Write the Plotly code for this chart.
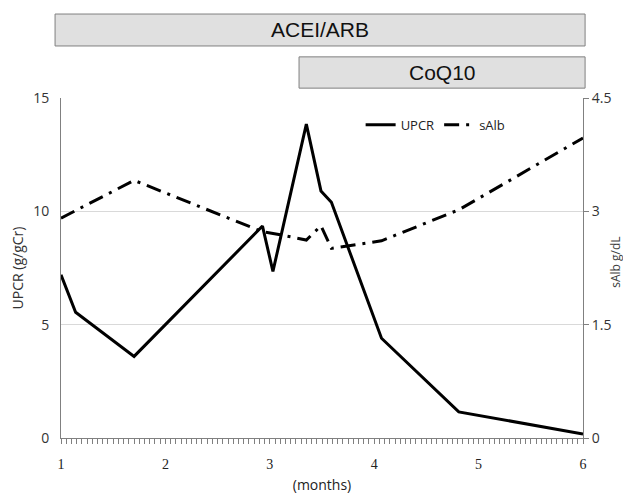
import plotly.graph_objects as go

# Data (months)
upcr_x = [1.0, 1.14, 1.70, 2.93, 3.03, 3.35, 3.49, 3.59, 4.07, 4.81, 6.0]
upcr_y = [7.2, 5.55, 3.6, 9.35, 7.35, 13.85, 10.9, 10.4, 4.4, 1.15, 0.18]

salb_x = [1.0, 1.70, 2.93, 3.03, 3.10, 3.35, 3.49, 3.59, 4.07, 4.81, 6.0]
salb_y = [2.91, 3.41, 2.73, 2.71, 2.69, 2.62, 2.81, 2.51, 2.61, 3.02, 3.97]

x_ticks = [1, 2, 3, 4, 5, 6]
y1_ticks = [0, 5, 10, 15]
y2_ticks = [0, 1.5, 3, 4.5]

treatments = ["ACEI/ARB", "CoQ10"]
treat_start = [0.943, 3.28]
treat_end = [6.02, 6.02]

X_RANGE = [1, 6]

fig = go.Figure()
fig.add_trace(go.Scatter(x=upcr_x, y=upcr_y, mode="lines", name="UPCR",
                         line=dict(color="black", width=3)))
fig.add_trace(go.Scatter(x=salb_x, y=salb_y, mode="lines", name="sAlb", yaxis="y2",
                         line=dict(color="black", width=3, dash="15px,7px,3px,7px")))

# treatment boxes (paper coords derived from x axis range)
box_rows = [(1.153, 1.247), (1.029, 1.121)]
for name, s, e, (y0, y1) in zip(treatments, treat_start, treat_end, box_rows):
    px0 = (s - X_RANGE[0]) / (X_RANGE[1] - X_RANGE[0])
    px1 = (e - X_RANGE[0]) / (X_RANGE[1] - X_RANGE[0])
    fig.add_shape(type="rect", xref="paper", yref="paper", x0=px0, x1=px1, y0=y0, y1=y1,
                  fillcolor="#e0e0e0", line=dict(color="#808080", width=1))
    fig.add_annotation(xref="paper", yref="paper", x=(px0 + px1) / 2, y=(y0 + y1) / 2,
                       xanchor="center", yanchor="middle",
                       text=name, showarrow=False,
                       font=dict(family="Liberation Sans", size=21, color="#111111"))

fig.add_annotation(xref="paper", yref="paper", x=1.063, y=0.518,
                   xanchor="center", yanchor="middle",
                   text="sAlb g/dL", textangle=-90, showarrow=False,
                   font=dict(family="Open Sans", size=12, color="#404040"))

fig.update_layout(
    width=631, height=497,
    margin=dict(l=53, r=56, t=90, b=67, autoexpand=False),
    paper_bgcolor="white", plot_bgcolor="white",
    showlegend=True,
    legend=dict(orientation="h", x=0.574, y=0.965, xanchor="left", yanchor="top",
                font=dict(family="Open Sans", size=13, color="#222222"),
                bgcolor="rgba(0,0,0,0)", itemwidth=30, tracegroupgap=0),
    xaxis=dict(range=X_RANGE, tickvals=x_ticks, ticktext=[str(v) for v in x_ticks],
               automargin=False,
               showgrid=False, zeroline=False, showline=True, linecolor="#808080", linewidth=1,
               ticks="outside", ticklen=5, tickcolor="#808080", ticklabelstandoff=8,
               tickfont=dict(family="Liberation Serif", size=14, color="#222222"),
               minor=dict(dtick=0.05, ticks="outside", ticklen=5, tickcolor="#808080", showgrid=False),
               title=dict(text="(months)", standoff=9,
                          font=dict(family="Open Sans", size=14, color="#222222"))),
    yaxis=dict(range=[0, 15], tickvals=y1_ticks, showgrid=True, gridcolor="#d9d9d9",
               automargin=False,
               zeroline=False, showline=True, linecolor="#808080", linewidth=1,
               ticks="", ticklabelstandoff=8,
               tickfont=dict(family="Open Sans", size=14, color="#333333"),
               title=dict(text="UPCR (g/gCr)", standoff=8,
                          font=dict(family="Open Sans", size=14, color="#333333"))),
    yaxis2=dict(range=[0, 4.5], tickvals=y2_ticks, ticktext=["0", "1.5", "3", "4.5"],
                automargin=False,
                overlaying="y", side="right", showgrid=False, zeroline=False,
                showline=True, linecolor="#808080", linewidth=1,
                ticks="outside", ticklen=5, tickcolor="#808080",
                tickfont=dict(family="Open Sans", size=14, color="#333333")),
)

fig.write_html("out.html")
